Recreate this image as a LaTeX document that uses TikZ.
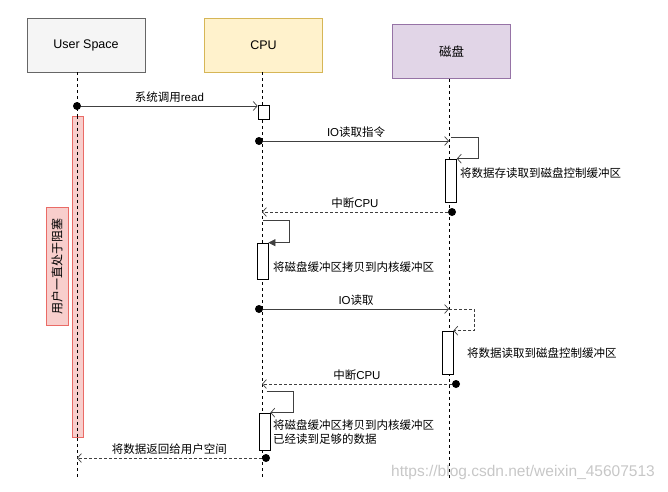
\documentclass[tikz,border=0pt]{standalone}
\usepackage{fontspec}
\setmainfont{Liberation Sans}
\newfontfamily\cjk{Noto Sans CJK SC}
\usetikzlibrary{arrows.meta, positioning, calc}
\definecolor{userfill}{HTML}{F5F5F5}
\definecolor{userline}{HTML}{666666}
\definecolor{cpufill}{HTML}{FFF2CC}
\definecolor{cpuline}{HTML}{D6B656}
\definecolor{diskfill}{HTML}{E1D5E7}
\definecolor{diskline}{HTML}{9673A6}
\definecolor{blockfill}{HTML}{F8CECC}
\definecolor{blockline}{HTML}{EA6B66}

\begin{document}
\begin{tikzpicture}[x=1pt, y=-1pt,
  actor/.style={draw, line width=0.8pt, minimum width=118pt, minimum height=54pt, font=\fontsize{12.5}{15}\selectfont},
  lifeline/.style={line width=0.7pt, dash pattern=on 3pt off 3pt},
  act/.style={draw, line width=0.7pt, fill=white, minimum width=11pt, inner sep=0pt},
  dot/.style={circle, fill=black, inner sep=0pt, minimum size=8pt},
  msg/.style={draw=black!75, line width=0.7pt, -{Straight Barb[length=4pt,width=9pt]}},
  reply/.style={msg, dash pattern=on 3pt off 2pt},
  lbl/.style={font=\fontsize{11.5}{14}\selectfont, inner sep=1pt}]

\useasboundingbox (0,0) rectangle (668,491);

% participants
\node[actor, fill=userfill, draw=userline] (user) at (86,45) {User Space};
\node[actor, fill=cpufill, draw=cpuline] (cpu) at (263.5,45) {CPU};
\node[actor, fill=diskfill, draw=diskline] (disk) at (451.5,51.5) {\cjk 磁盘};

% lifelines
\coordinate (userEnd) at (77,480);
\coordinate (cpuEnd) at (262,480);
\coordinate (diskEnd) at (449,480);
\draw[lifeline] (userEnd |- user.south) -- (userEnd);
\draw[lifeline] (cpuEnd |- cpu.south) -- (cpuEnd);
\draw[lifeline] (diskEnd |- disk.south) -- (diskEnd);

% user blocked
\node[act, fill=blockfill, draw=blockline, minimum height=321pt] (block) at (77.5,276.5) {};
\draw[lifeline] (block.north -| userEnd) -- (block.south -| userEnd);
\node[draw=blockline, fill=blockfill, rotate=90, minimum width=118pt, minimum height=22pt,
  inner sep=0pt, font=\fontsize{12}{14}\selectfont\cjk] (blockLabel) at (57,266) {用户一直处于阻塞};

% system call
\node[act, minimum height=14pt] (cpuA1) at (263.5,112) {};
\node[dot] (d1) at (77,106) {};
\draw[msg] (d1) -- (d1 -| cpuA1.west) node[lbl, midway, above=2pt] {{\cjk 系统调用}read};

% io command
\node[dot] (d2) at (259,141) {};
\node[act, minimum height=43pt] (diskA1) at (451,180.5) {};
\draw[msg] (d2) -- (d2 -| diskEnd) node[lbl, midway, above=2pt] {IO{\cjk 读取指令}};
\draw[msg] ($(d2 -| diskEnd)+(2,-4)$) -| ($(diskA1.north east)+(21,0)$) -- (diskA1.north east);
\node[lbl, anchor=west] (diskT1) at (459,173) {\cjk 将数据存读取到磁盘控制缓冲区};

% interrupt
\node[dot] (d3) at (452,212) {};
\draw[reply] (d3) -- (d3 -| cpuEnd) node[lbl, midway, above=2pt] {{\cjk 中断}CPU};

% copy to kernel
\node[act, minimum height=36pt] (cpuA2) at (262.5,261) {};
\draw[draw=black!75, line width=0.7pt, -{Triangle[length=7pt,width=7pt]}]
  ($(cpuA2.north)+(0,-22)$) -| ($(cpuA2.north east)+(21,0)$) -- (cpuA2.north east);
\node[lbl, anchor=west] (cpuT1) at (272,267) {\cjk 将磁盘缓冲区拷贝到内核缓冲区};

% io read
\node[dot] (d4) at (259,309) {};
\node[act, minimum height=43pt] (diskA2) at (447.5,352.5) {};
\draw[msg] (d4) -- (d4 -| diskEnd) node[lbl, midway, above=2pt] {IO{\cjk 读取}};
\draw[reply] (d4 -| diskEnd) -| ($(diskA2.north east)+(21,0)$) -- (diskA2.north east);
\node[lbl, anchor=west] (diskT2) at (466,353) {\cjk 将数据读取到磁盘控制缓冲区};

% interrupt again
\node[dot] (d5) at (456,384) {};
\draw[reply] (d5) -- (d5 -| cpuEnd) node[lbl, midway, above=2pt] {{\cjk 中断}CPU};

% copy done
\node[act, minimum height=37pt] (cpuA3) at (264.5,431.5) {};
\draw[msg] ($(cpuA3.north)+(2,-21)$) -| ($(cpuA3.north east)+(23,0)$) -- (cpuA3.north east);
\node[lbl, anchor=west, align=left] (cpuT2) at (272,432) {\cjk 将磁盘缓冲区拷贝到内核缓冲区\\\cjk 已经读到足够的数据};

% return to user
\node[dot] (d6) at (266,458) {};
\draw[reply] (d6) -- (d6 -| userEnd) node[lbl, midway, above=2pt] {\cjk 将数据返回给用户空间};

% watermark
\node[text=black!22, font=\fontsize{15.5}{18}\selectfont] (mark) at (523,472) {https://blog.csdn.net/weixin\_45607513};
\end{tikzpicture}
\end{document}
